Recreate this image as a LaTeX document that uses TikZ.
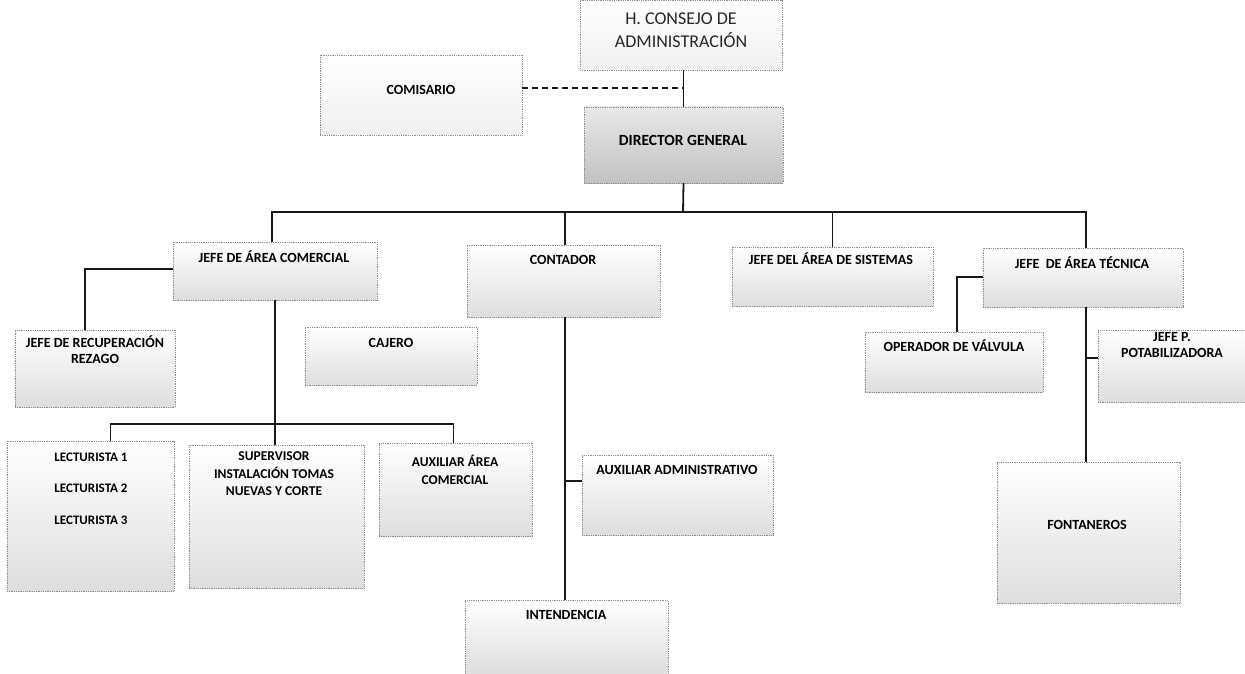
\documentclass[tikz,border=0pt]{standalone}
\usepackage{fontspec}
\setmainfont{Carlito}
\begin{document}
\begin{tikzpicture}[x=1pt,y=-1pt,
  box/.style={rectangle, anchor=north west, inner sep=0pt, outer sep=0pt,
    draw=black!45, densely dotted, line width=0.8pt,
    top color=white, bottom color=black!13},
  lightbox/.style={box, top color=white, bottom color=black!6},
  darkbox/.style={box, top color=black!9, bottom color=black!24},
  lbl/.style={inner sep=0pt, align=center, text=black,
    font=\fontsize{14}{16}\selectfont\bfseries},
  biglbl/.style={inner sep=0pt, align=center, text=black!85,
    font=\fontsize{18}{23}\selectfont},
  conn/.style={draw=black!90, line width=1.8pt},
  dconn/.style={draw=black!90, line width=1.4pt, dash pattern=on 6pt off 4pt}]
\useasboundingbox[fill=white] (0,0) rectangle (1245,674);

% ---- boxes ----
\node[lightbox, minimum width=202pt, minimum height=70pt] (cons) at (580,0) {};
\node[lightbox, minimum width=202pt, minimum height=80pt] (com) at (320,55) {};
\node[darkbox, minimum width=199pt, minimum height=76pt] (dg) at (584,107) {};
\node[box, minimum width=204pt, minimum height=58pt] (jac) at (173,242) {};
\node[box, minimum width=193pt, minimum height=72pt] (cont) at (467,245) {};
\node[box, minimum width=201pt, minimum height=59pt] (sis) at (732,247) {};
\node[box, minimum width=200pt, minimum height=59pt] (tec) at (983,248) {};
\node[box, minimum width=160pt, minimum height=77pt] (rec) at (15,330) {};
\node[box, minimum width=172pt, minimum height=58pt] (caj) at (305,327) {};
\node[box, minimum width=178pt, minimum height=60pt] (op) at (865,332) {};
\node[box, minimum width=150pt, minimum height=72pt] (pot) at (1098,330) {};
\node[box, minimum width=167pt, minimum height=150pt] (lect) at (7,441) {};
\node[box, minimum width=175pt, minimum height=143pt] (sup) at (189,445) {};
\node[box, minimum width=153pt, minimum height=93pt] (aux) at (379,443) {};
\node[box, minimum width=191pt, minimum height=80pt] (aa) at (582,455) {};
\node[box, minimum width=203pt, minimum height=74pt] (int) at (465,600) {};
\node[box, minimum width=183pt, minimum height=141pt] (font) at (997,462) {};

% ---- texts ----
\node[biglbl] (cons-t) at (681,30) {H. CONSEJO DE\\ADMINISTRACIÓN};
\node[lbl] (com-t) at (421,90) {COMISARIO};
\node[lbl, font=\fontsize{15.5}{18}\selectfont\bfseries] (dg-t) at (683,140) {DIRECTOR GENERAL};
\node[lbl] (jac-t) at (274,257) {JEFE DE ÁREA COMERCIAL};
\node[lbl] (cont-t) at (563,260) {CONTADOR};
\node[lbl] (sis-t) at (831,259) {JEFE DEL ÁREA DE SISTEMAS};
\node[lbl] (tec-t) at (1082,263) {JEFE \ DE ÁREA TÉCNICA};
\node[lbl] (rec-t) at (95,350) {JEFE DE RECUPERACIÓN\\REZAGO};
\node[lbl] (caj-t) at (391,343) {CAJERO};
\node[lbl] (op-t) at (954,346) {OPERADOR DE VÁLVULA};
\node[lbl] (pot-t) at (1172,345) {JEFE P.\\POTABILIZADORA};
\node[lbl, font=\fontsize{13}{16}\selectfont\bfseries] (lect-t1) at (91,457) {LECTURISTA 1};
\node[lbl, font=\fontsize{13}{16}\selectfont\bfseries] (lect-t2) at (91,488) {LECTURISTA 2};
\node[lbl, font=\fontsize{13}{16}\selectfont\bfseries] (lect-t3) at (91,520) {LECTURISTA 3};
\node[lbl, font=\fontsize{13.5}{17.5}\selectfont\bfseries] (sup-t) at (274,474) {SUPERVISOR\\INSTALACIÓN TOMAS\\NUEVAS Y CORTE};
\node[lbl, font=\fontsize{13.5}{17.5}\selectfont\bfseries] (aux-t) at (455,470) {AUXILIAR ÁREA\\COMERCIAL};
\node[lbl] (aa-t) at (677,470) {AUXILIAR ADMINISTRATIVO};
\node[lbl] (int-t) at (566,615) {INTENDENCIA};
\node[lbl] (font-t) at (1087,525) {FONTANEROS};

% ---- connectors ----
\coordinate (dj) at (683,88);
\coordinate (bus) at (683,212);
\coordinate (lbus) at (275,424);
\coordinate (recj) at (173,269);
\coordinate (aaj) at (565,481);
\coordinate (opj) at (983,277);
\coordinate (potj) at (1086,358);

\draw[conn] (dg.north |- cons.south) -- (dg.north);
\draw[dconn] (com.east |- dj) -- (dj);
\draw[conn] (dg.south) -- (bus);
\draw[conn] ([xshift=-3pt]jac.north) -- ([xshift=-3pt]jac.north |- bus) -- ([xshift=3pt]tec.north |- bus) -- ([xshift=3pt]tec.north);
\draw[conn] ([xshift=1.5pt]cont.north |- bus) -- ([xshift=1.5pt]cont.north);
\draw[conn] (sis.north |- bus) -- (sis.north);

\draw[conn] (recj) -| ([xshift=-10pt]rec.north);
\draw[conn] (jac.south) -- (jac.south |- sup.north);
\draw[conn] ([xshift=20pt]lect.north) |- (lbus) -| ([xshift=-2pt]aux.north);

\draw[conn] ([xshift=1.5pt]cont.south) -- ([xshift=1.5pt]cont.south |- int.north);
\draw[conn] (aaj) -- (aa.west |- aaj);

\draw[conn] (opj) -| ([xshift=3pt]op.north);
\draw[conn] ([xshift=3pt]tec.south) -- ([xshift=3pt]tec.south |- font.north);
\draw[conn] (potj) -- (pot.west |- potj);
\end{tikzpicture}
\end{document}
